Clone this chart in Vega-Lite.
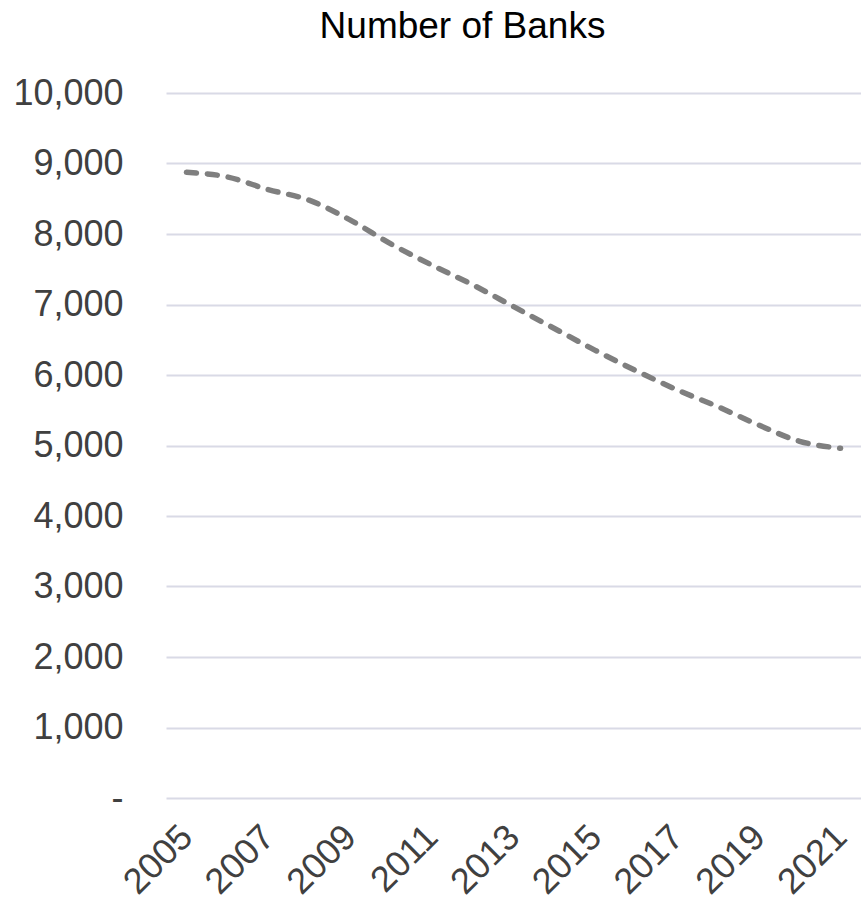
{
  "$schema": "https://vega.github.io/schema/vega-lite/v6.json",
  "autosize": "none",
  "width": 695,
  "height": 705,
  "padding": {"left": 166, "top": 93, "right": 0, "bottom": 106},
  "background": "white",
  "title": {
    "text": "Number of Banks",
    "font": "Liberation Sans",
    "fontSize": 37,
    "fontWeight": "normal",
    "color": "#000000",
    "anchor": "middle",
    "frame": "group",
    "baseline": "alphabetic",
    "dx": -51,
    "offset": 0
  },
  "config": {
    "view": {"stroke": null},
    "font": "Liberation Sans"
  },
  "data": {
    "values": [
      {"year": "2005", "banks": 8875},
      {"year": "2006", "banks": 8810},
      {"year": "2007", "banks": 8630},
      {"year": "2008", "banks": 8480},
      {"year": "2009", "banks": 8200},
      {"year": "2010", "banks": 7860},
      {"year": "2011", "banks": 7560},
      {"year": "2012", "banks": 7280},
      {"year": "2013", "banks": 6970},
      {"year": "2014", "banks": 6660},
      {"year": "2015", "banks": 6350},
      {"year": "2016", "banks": 6060},
      {"year": "2017", "banks": 5790},
      {"year": "2018", "banks": 5550},
      {"year": "2019", "banks": 5290},
      {"year": "2020", "banks": 5060},
      {"year": "2021", "banks": 4960}
    ]
  },
  "mark": {
    "type": "line",
    "interpolate": "monotone",
    "color": "#7f7f7f",
    "strokeWidth": 5.5,
    "strokeCap": "round",
    "strokeDash": [10, 11]
  },
  "encoding": {
    "x": {
      "field": "year",
      "type": "ordinal",
      "scale": {"type": "point", "padding": 0.5},
      "axis": {
        "title": null,
        "values": ["2005", "2007", "2009", "2011", "2013", "2015", "2017", "2019", "2021"],
        "labelAngle": -45,
        "labelAlign": "right",
        "labelBaseline": "middle",
        "labelFontSize": 36,
        "labelColor": "#404040",
        "labelPadding": 33,
        "domain": false,
        "ticks": false,
        "grid": false
      }
    },
    "y": {
      "field": "banks",
      "type": "quantitative",
      "scale": {"domain": [0, 10000], "nice": false},
      "axis": {
        "title": null,
        "values": [0, 1000, 2000, 3000, 4000, 5000, 6000, 7000, 8000, 9000, 10000],
        "labelExpr": "datum.value == 0 ? '-\u00a0\u00a0' : format(datum.value, ',')",
        "labelFontSize": 36,
        "labelColor": "#404040",
        "labelPadding": 43,
        "domain": false,
        "ticks": false,
        "grid": true,
        "gridColor": "#d9dae6",
        "gridWidth": 2
      }
    }
  }
}
